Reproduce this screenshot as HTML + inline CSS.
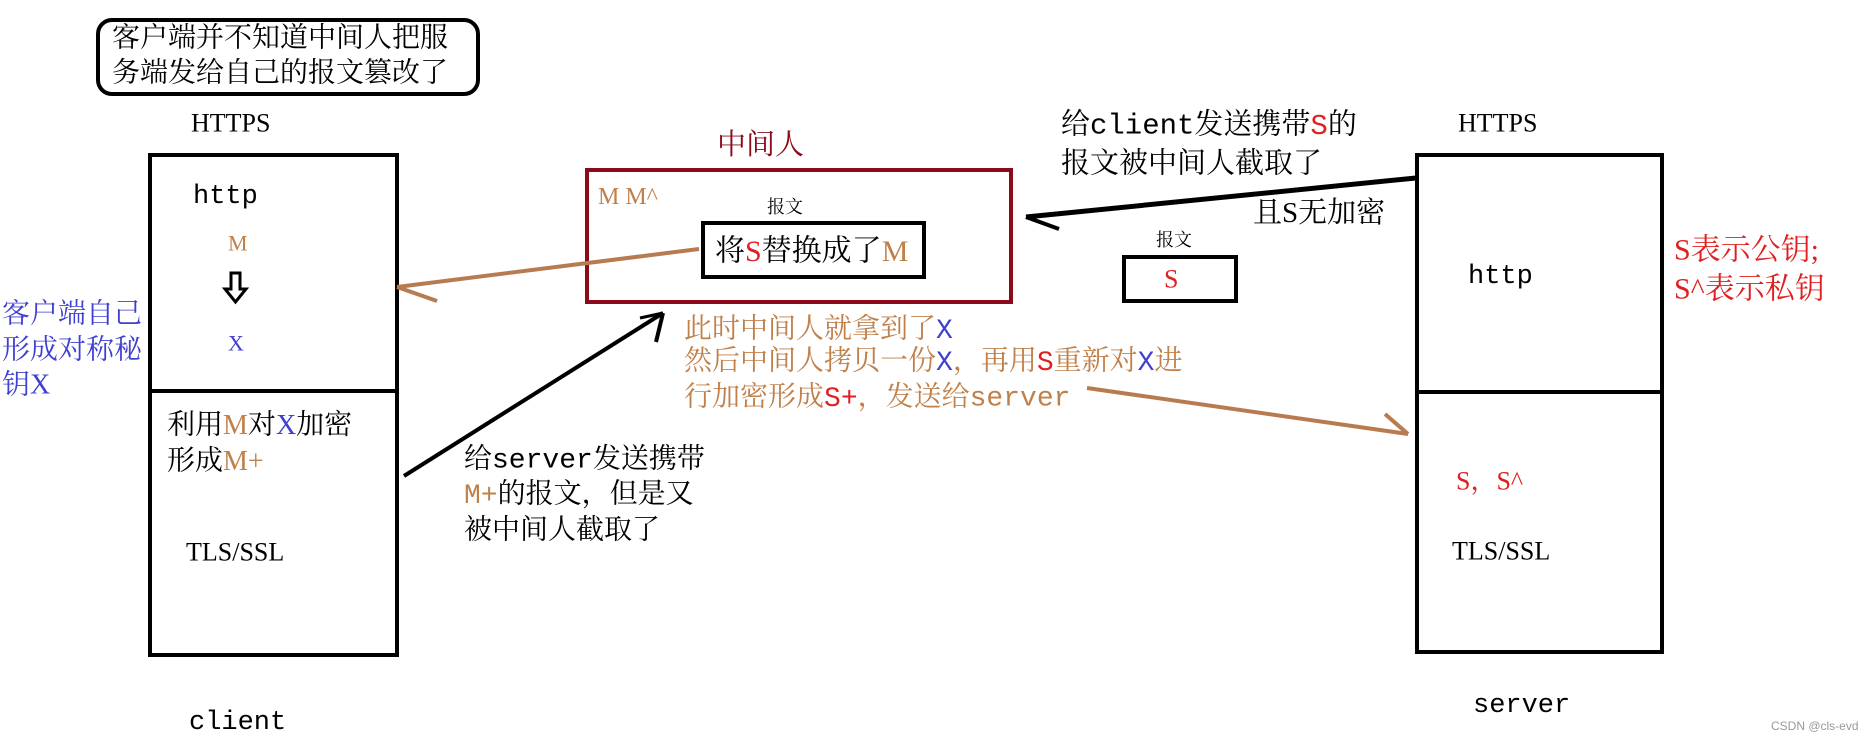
<!DOCTYPE html>
<html><head><meta charset="utf-8"><style>
html,body{margin:0;padding:0;background:#fff;}
svg{display:block;}
text{font-family:"Liberation Mono","Noto Serif CJK SC",serif;dominant-baseline:central;}
.s{font-family:"Liberation Serif","Noto Serif CJK SC",serif;}
</style></head><body>
<svg width="1874" height="742" viewBox="0 0 1874 742" xmlns="http://www.w3.org/2000/svg">
<rect x="98" y="20" width="380" height="74" rx="14" fill="none" stroke="#000" stroke-width="4"/>
<text x="112" y="40" font-size="28">客户端并不知道中间人把服</text>
<text x="112" y="75" font-size="28">务端发给自己的报文篡改了</text>

<text class="s" x="191" y="123" font-size="26">HTTPS</text>
<rect x="150" y="155" width="247" height="500" fill="none" stroke="#000" stroke-width="4"/>
<line x1="150" y1="391" x2="397" y2="391" stroke="#000" stroke-width="4"/>
<text x="193" y="197" font-size="27">http</text>
<text class="s" x="228" y="243" font-size="22" fill="#c0804a">M</text>
<path d="M231 273 h9 v16 h6 l-10.5 13 l-10.5 -13 h6 z" fill="none" stroke="#000" stroke-width="3"/>
<text class="s" x="228" y="343" font-size="22" fill="#4040d0">X</text>
<text class="s" x="2" y="314" font-size="28" fill="#4040d0">客户端自己</text>
<text class="s" x="2" y="350" font-size="28" fill="#4040d0">形成对称秘</text>
<text class="s" x="2" y="385" font-size="28" fill="#4040d0">钥X</text>
<text class="s" x="167" y="425" font-size="28">利用<tspan fill="#c0804a">M</tspan>对<tspan fill="#4040d0">X</tspan>加密</text>
<text class="s" x="167" y="461" font-size="28">形成<tspan fill="#c0804a">M+</tspan></text>
<text class="s" x="186" y="552" font-size="26">TLS/SSL</text>
<text x="189" y="723" font-size="27">client</text>

<text class="s" x="717" y="145" font-size="29" fill="#8b0a1a">中间人</text>
<rect x="587" y="170" width="424" height="132" fill="none" stroke="#8b0a1a" stroke-width="4"/>
<text class="s" x="598" y="197" font-size="24" fill="#c0804a">M M^</text>
<text class="s" x="767" y="207" font-size="18">报文</text>
<rect x="703" y="223" width="221" height="54" fill="none" stroke="#000" stroke-width="4"/>
<text class="s" x="715" y="251" font-size="30">将<tspan fill="#e02020">S</tspan>替换成了<tspan fill="#c0804a">M</tspan></text>
<line x1="699" y1="249" x2="397" y2="287" stroke="#b87b50" stroke-width="4"/>
<line x1="397" y1="287" x2="437" y2="301" stroke="#b87b50" stroke-width="4"/>
<line x1="404" y1="476" x2="663" y2="313" stroke="#000" stroke-width="4"/>
<line x1="663" y1="313" x2="656" y2="342" stroke="#000" stroke-width="4"/>
<line x1="663" y1="313" x2="640" y2="318" stroke="#000" stroke-width="3"/>

<text x="684" y="331" font-size="28" fill="#c0804a">此时中间人就拿到了<tspan fill="#4040d0">X</tspan></text>
<text x="684" y="363" font-size="28" fill="#c0804a">然后中间人拷贝一份<tspan fill="#4040d0">X</tspan>，再用<tspan fill="#e02020">S</tspan>重新对<tspan fill="#4040d0">X</tspan>进</text>
<text x="684" y="399" font-size="28" fill="#c0804a">行加密形成<tspan fill="#e02020">S+</tspan>，发送给server</text>
<line x1="1087" y1="388" x2="1408" y2="434" stroke="#b87b50" stroke-width="4"/>
<line x1="1408" y1="434" x2="1385" y2="414" stroke="#b87b50" stroke-width="4"/>

<text x="464" y="461" font-size="28">给server发送携带</text>
<text x="464" y="496" font-size="28"><tspan fill="#c0804a">M+</tspan>的报文，但是又</text>
<text x="464" y="532" font-size="28">被中间人截取了</text>

<text x="1061" y="126" font-size="29">给client发送携带<tspan fill="#e02020">S</tspan>的</text>
<text x="1061" y="165" font-size="29">报文被中间人截取了</text>
<text class="s" x="1253" y="213" font-size="29">且S无加密</text>
<line x1="1416" y1="178" x2="1026" y2="217" stroke="#000" stroke-width="5"/>
<line x1="1026" y1="217" x2="1059" y2="229" stroke="#000" stroke-width="4"/>
<text class="s" x="1156" y="240" font-size="18">报文</text>
<rect x="1124" y="257" width="112" height="44" fill="none" stroke="#000" stroke-width="4"/>
<text class="s" x="1164" y="279" font-size="26" fill="#e02020">S</text>

<text class="s" x="1458" y="123" font-size="26">HTTPS</text>
<rect x="1417" y="155" width="245" height="497" fill="none" stroke="#000" stroke-width="4"/>
<line x1="1417" y1="392" x2="1662" y2="392" stroke="#000" stroke-width="4"/>
<text x="1468" y="277" font-size="27">http</text>
<text class="s" x="1456" y="481" font-size="26" fill="#e02020">S，S^</text>
<text class="s" x="1452" y="551" font-size="26">TLS/SSL</text>
<text x="1473" y="706" font-size="27">server</text>
<text class="s" x="1674" y="250" font-size="30" fill="#e02020">S表示公钥;</text>
<text class="s" x="1674" y="289" font-size="30" fill="#e02020">S^表示私钥</text>
<text x="1771" y="726" font-size="12" fill="#999" style="font-family:'Liberation Sans',sans-serif">CSDN @cls-evd</text>
</svg>
</body></html>
